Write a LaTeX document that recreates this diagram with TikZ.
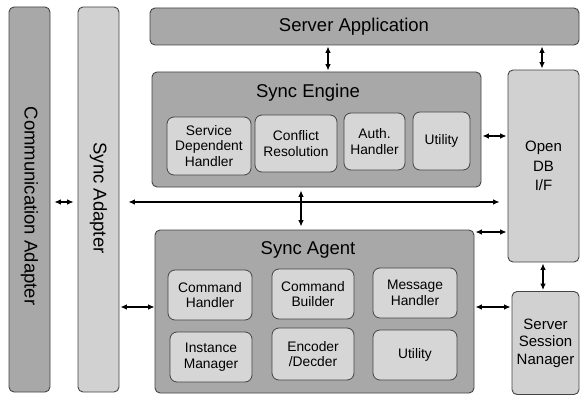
\documentclass[tikz,border=0pt]{standalone}
\usepackage{fontspec}
\setmainfont{Liberation Sans}
\usetikzlibrary{arrows.meta}
\definecolor{darkfill}{HTML}{A8A8A8}
\definecolor{lightfill}{HTML}{D1D1D1}
\definecolor{innerfill}{HTML}{D6D6D6}
\definecolor{edge}{HTML}{444444}
\tikzset{
  box/.style={draw=edge, line width=0.9pt, rounded corners=5pt, inner sep=0pt, align=center},
  darkbox/.style={box, fill=darkfill},
  lightbox/.style={box, fill=lightfill},
  innerbox/.style={draw=edge, line width=0.8pt, rounded corners=7pt, fill=innerfill, inner sep=0pt, align=center,
     font=\fontsize{13.8}{15.5}\selectfont},
  bigtext/.style={font=\fontsize{18.5}{20}\selectfont},
  sidetext/.style={font=\fontsize{15}{19.5}\selectfont},
  arr/.style={{Latex[length=6.5pt,width=5.5pt]}-{Latex[length=6.5pt,width=5.5pt]}, line width=1.1pt, black},
}
\begin{document}
\begin{tikzpicture}[x=1pt,y=-1pt]
\useasboundingbox (0,0) rectangle (580,398);
% outer boxes
\node[darkbox, minimum width=41pt, minimum height=385pt] (ca) at (29.5,199.5) {};
\node[bigtext, rotate=-90] (catext) at (29.5,206) {Communication Adapter};
\node[lightbox, minimum width=41pt, minimum height=385pt] (sa) at (98.5,199.5) {};
\node[bigtext, rotate=-90] (satext) at (98.5,198) {Sync Adapter};
\node[darkbox, minimum width=429pt, minimum height=37pt] (app) at (364.5,26.5) {};
\node[bigtext] (apptext) at (354,26.5) {Server Application};
\node[darkbox, minimum width=329pt, minimum height=115pt] (se) at (316.5,129.5) {};
\node[bigtext] (setext) at (308,93) {Sync Engine};
\node[lightbox, minimum width=71pt, minimum height=192pt, sidetext] (db) at (543.5,166) {Open\\DB\\I/F};
\node[darkbox, minimum width=319pt, minimum height=163pt] (ag) at (314.5,311.5) {};
\node[bigtext] (agtext) at (308,250) {Sync Agent};
\node[lightbox, minimum width=67pt, minimum height=103pt, font=\fontsize{15}{17.5}\selectfont] (ss) at (545.5,343) {Server\\Session\\Nanager};
% engine inner
\node[innerbox, minimum width=84pt, minimum height=58pt] (sdh) at (209,146) {Service\\Dependent\\Handler};
\node[innerbox, minimum width=82pt, minimum height=57pt] (cr) at (296,143.5) {Conflict\\Resolution};
\node[innerbox, minimum width=61pt, minimum height=57pt] (ah) at (374.5,141.5) {Auth.\\Handler};
\node[innerbox, minimum width=57pt, minimum height=58pt] (ut1) at (441.5,141) {Utility};
% agent inner
\node[innerbox, minimum width=84pt, minimum height=50pt] (ch) at (210,295) {Command\\Handler};
\node[innerbox, minimum width=82pt, minimum height=50pt] (cb) at (313,294) {Command\\Builder};
\node[innerbox, minimum width=84pt, minimum height=50pt] (mh) at (415,293) {Message\\Handler};
\node[innerbox, minimum width=82pt, minimum height=50pt] (im) at (211,357) {Instance\\Manager};
\node[innerbox, minimum width=82pt, minimum height=52pt] (ed) at (313,354) {Encoder\\/Decder};
\node[innerbox, minimum width=84pt, minimum height=50pt] (ut2) at (415,355) {Utility};
% helper coordinates
\coordinate (h1) at (0,202);
\coordinate (h2) at (0,307);
\coordinate (h3) at (0,136);
\coordinate (h4) at (0,232);
\coordinate (v1) at (301,0);
\coordinate (v2) at (328,0);
\coordinate (v3) at (542,0);
\coordinate (v4) at (543,0);
% connectors
\draw[arr, shorten <=4pt, shorten >=4pt] (ca.east |- h1) -- (sa.west |- h1);
\draw[arr, shorten <=9pt, shorten >=8pt] (sa.east |- h1) -- (db.west |- h1);
\draw[arr, shorten <=3pt, shorten >=3pt] (se.south -| v1) -- (ag.north -| v1);
\draw[arr, shorten <=1pt, shorten >=0pt] (sa.east |- h2) -- (ag.west |- h2);
\draw[arr, shorten <=1pt, shorten >=1pt] (app.south -| v2) -- (se.north -| v2);
\draw[arr, shorten <=1pt, shorten >=1pt] (app.south -| v3) -- (db.north -| v3);
\draw[arr, shorten <=1pt, shorten >=1pt] (se.east |- h3) -- (db.west |- h3);
\draw[arr, shorten <=1pt, shorten >=1pt] (ag.east |- h4) -- (db.west |- h4);
\draw[arr, shorten <=1pt, shorten >=1pt] (ag.east |- h2) -- (ss.west |- h2);
\draw[arr, shorten <=1pt, shorten >=1pt] (db.south -| v4) -- (ss.north -| v4);
\end{tikzpicture}
\end{document}
